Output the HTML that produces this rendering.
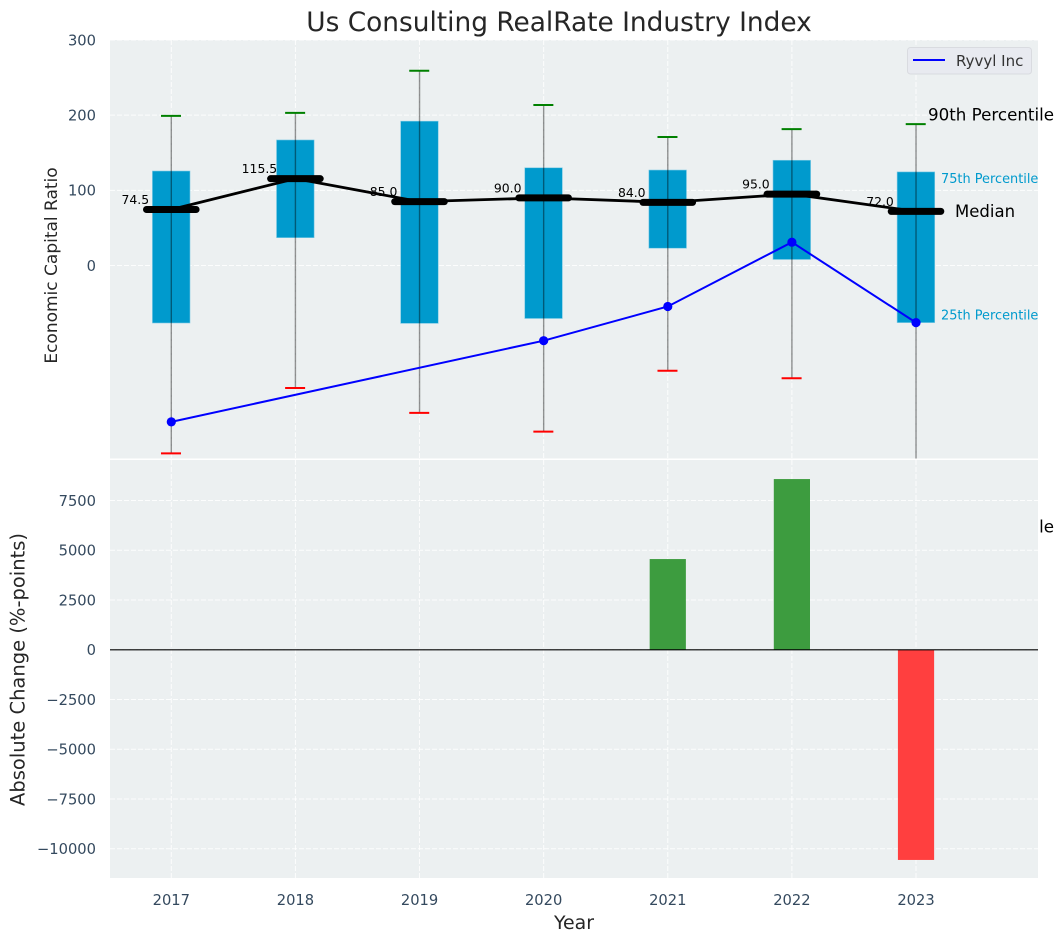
<!DOCTYPE html>
<html lang="en">
<head>
<meta charset="utf-8">
<title>Us Consulting RealRate Industry Index</title>
<style>
html,body{margin:0;padding:0;background:#fff;width:1063px;height:942px;overflow:hidden}
svg{display:block}
text{font-family:"DejaVu Sans","Liberation Sans",sans-serif}
</style>
</head>
<body>
<svg id="chart" xmlns="http://www.w3.org/2000/svg" width="1063" height="942" viewBox="0 0 1063 942">
<defs>
<clipPath id="clip-top"><rect x="110" y="40" width="928" height="418.5"></rect></clipPath>
</defs>
</svg>
<script>
const years = [2017, 2018, 2019, 2020, 2021, 2022, 2023];
const p90 = [199, 203, 259, 213.5, 171, 181.5, 188];
const p75 = [125.7, 167, 192, 130, 127, 140, 124.5];
const medians = [74.5, 115.5, 85, 90, 84, 95, 72];
const p25 = [-76.5, 37, -77, -70.5, 23, 8, -76];
const p10 = [-250, -163, -196, -221, -140, -150, -348];
const ryvylYears = [2017, 2020, 2021, 2022, 2023];
const ryvylValues = [-208, -100, -54.5, 31, -76];
const changeYears = [2021, 2022, 2023];
const changeValues = [4560, 8580, -10560];
const topTicks = [0, 100, 200, 300];
const bottomTicks = [-10000, -7500, -5000, -2500, 0, 2500, 5000, 7500];

const svg = document.getElementById('chart');
const NS = 'http://www.w3.org/2000/svg';
const xPos = y => 171.3 + (y - 2017) * 124.12;
const yTop = v => 265.5 - v * 0.7517;
const yBottom = v => 649.8 - v * 0.0199;
const TEXT = '#262626';
const TICK = '#34495e';
const GRID = 'rgba(255,255,255,0.85)';

function make(tag, attrs, parent, content) {
  const node = document.createElementNS(NS, tag);
  for (const k in attrs) node.setAttribute(k, attrs[k]);
  if (content !== undefined) node.textContent = content;
  (parent || svg).appendChild(node);
  return node;
}
let el;

// panel backgrounds (top) and its text that the lower panel later covers
el = make('rect', {x:110, y:40, width:928, height:418.5, fill:'#ecf0f1'});



el = make('text', {x:928, y:yTop(-348)+5.5, 'font-size':16.7, fill:'#000'}, svg, '10th Percentile');



el = make('rect', {x:110, y:460, width:928, height:418, fill:'#ecf0f1'});



// grid
years.forEach(y => {
  el = make('line', {x1:xPos(y), x2:xPos(y), y1:40, y2:458.5, stroke:GRID, 'stroke-width':1, 'stroke-dasharray':'5 2'});
  
  
  el = make('line', {x1:xPos(y), x2:xPos(y), y1:460, y2:878, stroke:GRID, 'stroke-width':1, 'stroke-dasharray':'5 2'});
  
  
  el = make('text', {x:xPos(y), y:905, 'font-size':14.7, fill:TICK, 'text-anchor':'middle'}, svg, y);
  
  
});
topTicks.forEach(t => {
  el = make('line', {x1:110, x2:1038, y1:yTop(t), y2:yTop(t), stroke:GRID, 'stroke-width':1, 'stroke-dasharray':'5 2'});
  
  
  el = make('text', {x:96, y:yTop(t)+5.3, 'font-size':14.7, fill:TICK, 'text-anchor':'end'}, svg, t);
  
  
});
bottomTicks.forEach(t => {
  el = make('line', {x1:110, x2:1038, y1:yBottom(t), y2:yBottom(t), stroke:GRID, 'stroke-width':1, 'stroke-dasharray':'5 2'});
  
  
  el = make('text', {x:96, y:yBottom(t)+5.3, 'font-size':14.7, fill:TICK, 'text-anchor':'end'}, svg, String(t).replace('-', '\u2212'));
  
  
});

// top panel marks
const topGroup = make('g', {'clip-path':'url(#clip-top)'});



years.forEach((y, i) => {
  const cx = xPos(y);
  el = make('rect', {x:cx-18.9, y:yTop(p75[i]), width:37.6, height:yTop(p25[i])-yTop(p75[i]), fill:'#009acd', stroke:'#7fcbe5', 'stroke-width':0.6}, topGroup);
  
  
});
years.forEach((y, i) => {
  const cx = xPos(y);
  el = make('line', {x1:cx, x2:cx, y1:yTop(p90[i]), y2:yTop(p10[i]), stroke:'#000', 'stroke-opacity':0.42, 'stroke-width':1.4}, topGroup);
  
  
  el = make('line', {x1:cx-10.3, x2:cx+9.7, y1:yTop(p90[i]), y2:yTop(p90[i]), stroke:'#008000', 'stroke-width':2}, topGroup);
  
  
  el = make('line', {x1:cx-10.3, x2:cx+9.7, y1:yTop(p10[i]), y2:yTop(p10[i]), stroke:'#ff0000', 'stroke-width':2}, topGroup);
  
  
});

el = make('polyline', {points:ryvylYears.map((y, i) => xPos(y) + ',' + yTop(ryvylValues[i])).join(' '), fill:'none', stroke:'#0000ff', 'stroke-width':2}, topGroup);


ryvylYears.forEach((y, i) => {
  el = make('circle', {cx:xPos(y), cy:yTop(ryvylValues[i]), r:4.6, fill:'#0000ff'}, topGroup);
  
  
});

years.forEach((y, i) => {
  el = make('text', {x:xPos(y)-36, y:yTop(medians[i])-5.5, 'font-size':12.4, fill:'#000', 'text-anchor':'middle'}, svg, medians[i].toFixed(1));
  
  
});

el = make('polyline', {points:years.map((y, i) => xPos(y) + ',' + yTop(medians[i])).join(' '), fill:'none', stroke:'#000', 'stroke-width':2.8}, topGroup);


years.forEach((y, i) => {
  const cx = xPos(y);
  el = make('line', {x1:cx-24.8, x2:cx+24.8, y1:yTop(medians[i]), y2:yTop(medians[i]), stroke:'#000', 'stroke-width':7, 'stroke-linecap':'round'}, topGroup);
  
  
});

// annotations
const lastX = xPos(2023);
el = make('text', {x:lastX+12, y:yTop(188)-3.5, 'font-size':16.7, fill:'#000'}, svg, '90th Percentile');


el = make('text', {x:lastX+25, y:yTop(124.5)+11.3, 'font-size':12.9, fill:'#009acd'}, svg, '75th Percentile');


el = make('text', {x:lastX+25, y:yTop(-76)-3.2, 'font-size':12.9, fill:'#009acd'}, svg, '25th Percentile');


el = make('text', {x:lastX+39, y:yTop(72)+5.5, 'font-size':16.5, fill:'#000'}, svg, 'Median');



// bottom panel bars
changeYears.forEach((y, i) => {
  const v = changeValues[i];
  el = make('rect', {x:xPos(y)-18.1, y:Math.min(yBottom(v), yBottom(0)), width:36.2, height:Math.abs(yBottom(v)-yBottom(0)), fill:v >= 0 ? '#3d9c3f' : '#ff3f3f'});
  
  
});
el = make('line', {x1:110, x2:1038, y1:yBottom(0), y2:yBottom(0), stroke:'#000', 'stroke-width':1.1});



// legend
el = make('rect', {x:907.5, y:47.5, width:124, height:26.5, rx:3, fill:'#e8eaf0', stroke:'#d9dbe0', 'stroke-width':1});


el = make('line', {x1:913, x2:945, y1:60, y2:60, stroke:'#0000ff', 'stroke-width':2});


el = make('text', {x:956, y:66, 'font-size':15, fill:'#333'}, svg, 'Ryvyl Inc');



// titles
el = make('text', {x:559, y:31, 'font-size':26.4, fill:TEXT, 'text-anchor':'middle'}, svg, 'Us Consulting RealRate Industry Index');


el = make('text', {x:574, y:929, 'font-size':18.9, fill:TEXT, 'text-anchor':'middle'}, svg, 'Year');


el = make('text', {'font-size':17, fill:TEXT, 'text-anchor':'middle', transform:'translate(57 265.5) rotate(-90)'}, svg, 'Economic Capital Ratio');


el = make('text', {'font-size':19.5, fill:TEXT, 'text-anchor':'middle', transform:'translate(24.5 669.5) rotate(-90)'}, svg, 'Absolute Change (%-points)');


</script>
</body>
</html>
